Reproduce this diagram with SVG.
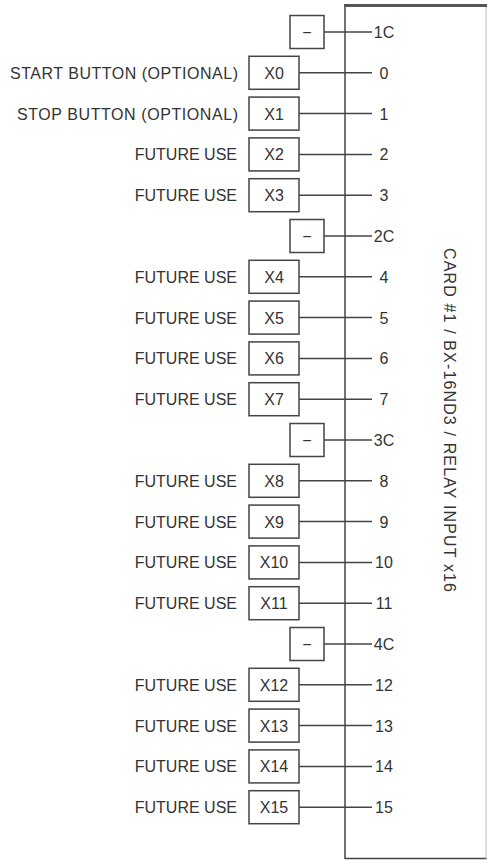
<svg xmlns="http://www.w3.org/2000/svg" width="487" height="860" viewBox="0 0 487 860">
<style>
text{font-family:"Liberation Sans",Arial,sans-serif;font-size:16px;fill:#333}
.box{fill:#fff;stroke:#444;stroke-width:1.5}
.wire{stroke:#444;stroke-width:1.5;fill:none}
.lbl{text-anchor:end}
.pin{text-anchor:middle}
.bx{text-anchor:middle}
</style>
<rect width="487" height="860" fill="#fff"/>
<g id="card">
<line x1="345" y1="5" x2="345" y2="859" stroke="#444" stroke-width="1.5"/>
<line x1="345" y1="858.5" x2="487" y2="858.5" stroke="#444" stroke-width="1.5"/>
<line x1="486" y1="5" x2="486" y2="859" stroke="#bbb" stroke-width="1"/>
<line x1="344" y1="5.5" x2="487" y2="5.5" stroke="#555" stroke-width="3"/>
<text transform="translate(443.5,248) rotate(90)" font-size="17" textLength="344" lengthAdjust="spacing">CARD #1 / BX-16ND3 / RELAY INPUT x16</text>
</g>
<g id="connectors">
<line class="wire" x1="324" y1="32" x2="372" y2="32"/>
<line class="wire" x1="299" y1="72.8" x2="372" y2="72.8"/>
<line class="wire" x1="299" y1="113.6" x2="372" y2="113.6"/>
<line class="wire" x1="299" y1="154.4" x2="372" y2="154.4"/>
<line class="wire" x1="299" y1="195.2" x2="372" y2="195.2"/>
<line class="wire" x1="324" y1="236" x2="372" y2="236"/>
<line class="wire" x1="299" y1="276.8" x2="372" y2="276.8"/>
<line class="wire" x1="299" y1="317.6" x2="372" y2="317.6"/>
<line class="wire" x1="299" y1="358.4" x2="372" y2="358.4"/>
<line class="wire" x1="299" y1="399.2" x2="372" y2="399.2"/>
<line class="wire" x1="324" y1="440" x2="372" y2="440"/>
<line class="wire" x1="299" y1="480.8" x2="372" y2="480.8"/>
<line class="wire" x1="299" y1="521.6" x2="372" y2="521.6"/>
<line class="wire" x1="299" y1="562.4" x2="372" y2="562.4"/>
<line class="wire" x1="299" y1="603.2" x2="372" y2="603.2"/>
<line class="wire" x1="324" y1="644" x2="372" y2="644"/>
<line class="wire" x1="299" y1="684.8" x2="372" y2="684.8"/>
<line class="wire" x1="299" y1="725.6" x2="372" y2="725.6"/>
<line class="wire" x1="299" y1="766.4" x2="372" y2="766.4"/>
<line class="wire" x1="299" y1="807.2" x2="372" y2="807.2"/>
</g>
<g id="c1"><rect class="box" x="290" y="15.5" width="34" height="33"/><text class="bx" x="307" y="38">−</text><text class="pin" x="384" y="38">1C</text></g>
<g id="x0"><text class="lbl" x="238" y="78.8" textLength="228" lengthAdjust="spacing">START BUTTON (OPTIONAL)</text><rect class="box" x="249" y="56.3" width="50" height="33"/><text class="bx" x="274" y="78.8">X0</text><text class="pin" x="384" y="78.8">0</text></g>
<g id="x1"><text class="lbl" x="238" y="119.6" textLength="221" lengthAdjust="spacing">STOP BUTTON (OPTIONAL)</text><rect class="box" x="249" y="97.1" width="50" height="33"/><text class="bx" x="274" y="119.6">X1</text><text class="pin" x="384" y="119.6">1</text></g>
<g id="x2"><text class="lbl" x="237" y="160.4">FUTURE USE</text><rect class="box" x="249" y="137.9" width="50" height="33"/><text class="bx" x="274" y="160.4">X2</text><text class="pin" x="384" y="160.4">2</text></g>
<g id="x3"><text class="lbl" x="237" y="201.2">FUTURE USE</text><rect class="box" x="249" y="178.7" width="50" height="33"/><text class="bx" x="274" y="201.2">X3</text><text class="pin" x="384" y="201.2">3</text></g>
<g id="c2"><rect class="box" x="290" y="219.5" width="34" height="33"/><text class="bx" x="307" y="242">−</text><text class="pin" x="384" y="242">2C</text></g>
<g id="x4"><text class="lbl" x="237" y="282.8">FUTURE USE</text><rect class="box" x="249" y="260.3" width="50" height="33"/><text class="bx" x="274" y="282.8">X4</text><text class="pin" x="384" y="282.8">4</text></g>
<g id="x5"><text class="lbl" x="237" y="323.6">FUTURE USE</text><rect class="box" x="249" y="301.1" width="50" height="33"/><text class="bx" x="274" y="323.6">X5</text><text class="pin" x="384" y="323.6">5</text></g>
<g id="x6"><text class="lbl" x="237" y="364.4">FUTURE USE</text><rect class="box" x="249" y="341.9" width="50" height="33"/><text class="bx" x="274" y="364.4">X6</text><text class="pin" x="384" y="364.4">6</text></g>
<g id="x7"><text class="lbl" x="237" y="405.2">FUTURE USE</text><rect class="box" x="249" y="382.7" width="50" height="33"/><text class="bx" x="274" y="405.2">X7</text><text class="pin" x="384" y="405.2">7</text></g>
<g id="c3"><rect class="box" x="290" y="423.5" width="34" height="33"/><text class="bx" x="307" y="446">−</text><text class="pin" x="384" y="446">3C</text></g>
<g id="x8"><text class="lbl" x="237" y="486.8">FUTURE USE</text><rect class="box" x="249" y="464.3" width="50" height="33"/><text class="bx" x="274" y="486.8">X8</text><text class="pin" x="384" y="486.8">8</text></g>
<g id="x9"><text class="lbl" x="237" y="527.6">FUTURE USE</text><rect class="box" x="249" y="505.1" width="50" height="33"/><text class="bx" x="274" y="527.6">X9</text><text class="pin" x="384" y="527.6">9</text></g>
<g id="x10"><text class="lbl" x="237" y="568.4">FUTURE USE</text><rect class="box" x="249" y="545.9" width="50" height="33"/><text class="bx" x="274" y="568.4">X10</text><text class="pin" x="384" y="568.4">10</text></g>
<g id="x11"><text class="lbl" x="237" y="609.2">FUTURE USE</text><rect class="box" x="249" y="586.7" width="50" height="33"/><text class="bx" x="274" y="609.2">X11</text><text class="pin" x="384" y="609.2">11</text></g>
<g id="c4"><rect class="box" x="290" y="627.5" width="34" height="33"/><text class="bx" x="307" y="650">−</text><text class="pin" x="384" y="650">4C</text></g>
<g id="x12"><text class="lbl" x="237" y="690.8">FUTURE USE</text><rect class="box" x="249" y="668.3" width="50" height="33"/><text class="bx" x="274" y="690.8">X12</text><text class="pin" x="384" y="690.8">12</text></g>
<g id="x13"><text class="lbl" x="237" y="731.6">FUTURE USE</text><rect class="box" x="249" y="709.1" width="50" height="33"/><text class="bx" x="274" y="731.6">X13</text><text class="pin" x="384" y="731.6">13</text></g>
<g id="x14"><text class="lbl" x="237" y="772.4">FUTURE USE</text><rect class="box" x="249" y="749.9" width="50" height="33"/><text class="bx" x="274" y="772.4">X14</text><text class="pin" x="384" y="772.4">14</text></g>
<g id="x15"><text class="lbl" x="237" y="813.2">FUTURE USE</text><rect class="box" x="249" y="790.7" width="50" height="33"/><text class="bx" x="274" y="813.2">X15</text><text class="pin" x="384" y="813.2">15</text></g>
</svg>
